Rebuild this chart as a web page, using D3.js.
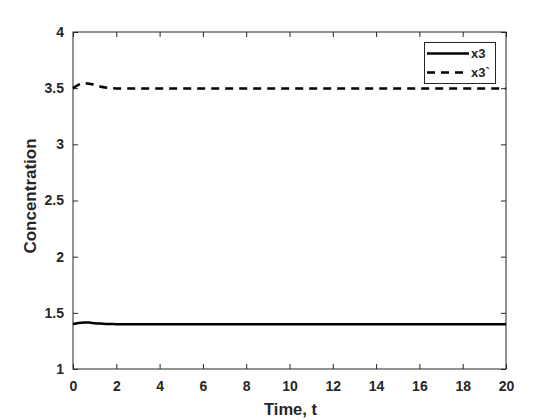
<!DOCTYPE html>
<html><head><meta charset="utf-8">
<script src="https://cdn.jsdelivr.net/npm/d3@7"></script>
<style>body{margin:0;background:#fff}svg{display:block}text{font-family:"Liberation Sans",Arial,sans-serif;font-weight:bold;fill:#262626}</style>
</head><body><svg id="c" width="560" height="420"></svg>
<script>
const time = [0, 0.25, 0.5, 0.75, 1, 1.25, 1.5, 1.75, 2, 2.5, 3, 4, 6, 8, 10, 12, 14, 16, 18, 20];
const x3 = [1.40, 1.41, 1.415, 1.413, 1.408, 1.404, 1.401, 1.40, 1.399, 1.399, 1.399, 1.399, 1.399, 1.399, 1.399, 1.399, 1.399, 1.399, 1.399, 1.399];
const x3p = [3.50, 3.53, 3.545, 3.54, 3.53, 3.515, 3.505, 3.50, 3.498, 3.498, 3.498, 3.498, 3.498, 3.498, 3.498, 3.498, 3.498, 3.498, 3.498, 3.498];
const xTicks = [0, 2, 4, 6, 8, 10, 12, 14, 16, 18, 20];
const yTicks = [1, 1.5, 2, 2.5, 3, 3.5, 4];
const seriesNames = ["x3", "x3`"];

const svg = d3.select("#c");
const L = 73, R = 506, T = 32, B = 369;
const x = d3.scaleLinear().domain([0, 20]).range([L, R]);
const y = d3.scaleLinear().domain([1, 4]).range([B, T]);
const ax = "#262626";

const fmt = d => d3.format("")(d);
const gx = svg.append("g").attr("transform", `translate(0,${B})`)
  .call(d3.axisBottom(x).tickValues(xTicks).tickSizeInner(-5).tickSizeOuter(0).tickPadding(12).tickFormat(fmt));
const gxt = svg.append("g").attr("transform", `translate(0,${T})`)
  .call(d3.axisTop(x).tickValues(xTicks).tickSizeInner(-5).tickSizeOuter(0).tickFormat(""));
const gy = svg.append("g").attr("transform", `translate(${L},0)`)
  .call(d3.axisLeft(y).tickValues(yTicks).tickSizeInner(-5).tickSizeOuter(0).tickPadding(9).tickFormat(fmt));
const gyr = svg.append("g").attr("transform", `translate(${R},0)`)
  .call(d3.axisRight(y).tickValues(yTicks).tickSizeInner(-5).tickSizeOuter(0).tickFormat(""));
[gx, gxt, gy, gyr].forEach(g => {
  g.select(".domain").remove();
  g.selectAll(".tick line").attr("stroke", ax).attr("stroke-width", 1);
  g.selectAll(".tick text").attr("font-size", 14).attr("font-weight", "bold").attr("fill", ax);
});
svg.append("rect").attr("x", L).attr("y", T).attr("width", R - L).attr("height", B - T)
  .attr("fill", "none").attr("stroke", ax).attr("stroke-width", 1);

const line = d3.line().x((d, i) => x(time[i])).y(d => y(d)).curve(d3.curveMonotoneX);
svg.append("path").datum(x3).attr("d", line).attr("fill", "none").attr("stroke", "#000").attr("stroke-width", 2.5);
svg.append("path").datum(x3p).attr("d", line).attr("fill", "none").attr("stroke", "#000").attr("stroke-width", 2.5).attr("stroke-dasharray", "8,6");

svg.append("text").attr("x", (L + R) / 2 + 1).attr("y", 415).attr("text-anchor", "middle").attr("font-size", 16.5).text("Time, t");
svg.append("text").attr("transform", `translate(36,196) rotate(-90)`).attr("text-anchor", "middle").attr("font-size", 17).text("Concentration");

// legend
const lg = svg.append("g");
lg.append("rect").attr("x", 424.5).attr("y", 42.5).attr("width", 71).attr("height", 41).attr("fill", "#fff").attr("stroke", ax).attr("stroke-width", 1);
const dashes = [null, "8,6"];
seriesNames.forEach((n, i) => {
  const yy = 53.5 + i * 19;
  lg.append("line").attr("x1", 427).attr("x2", 469).attr("y1", yy).attr("y2", yy).attr("stroke", "#000").attr("stroke-width", 2.5).attr("stroke-dasharray", dashes[i]);
  lg.append("text").attr("x", 471).attr("y", yy + 4.5).attr("font-size", 13).text(n);
});
</script></body></html>
